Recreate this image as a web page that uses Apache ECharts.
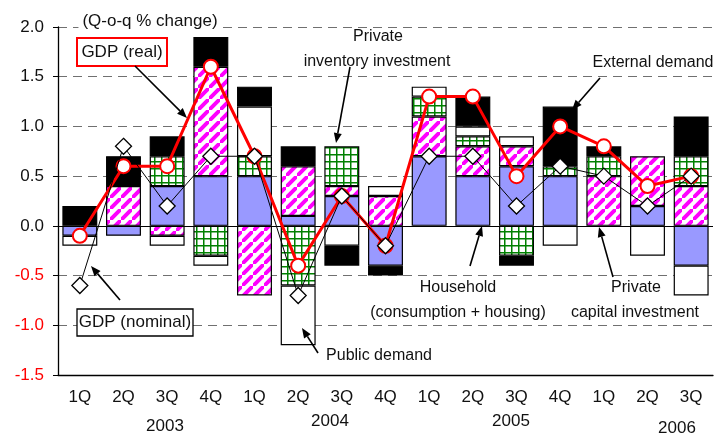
<!DOCTYPE html>
<html>
<head>
<meta charset="utf-8">
<script src="https://cdn.jsdelivr.net/npm/echarts@6/dist/echarts.min.js"></script>
<style>
  html, body { margin: 0; padding: 0; background: #fff; }
  #chart { width: 717px; height: 434px; }
</style>
</head>
<body>
<div id="chart"></div>
<script>
  // 数据
  var categories = ['1Q', '2Q', '3Q', '4Q', '1Q', '2Q', '3Q', '4Q', '1Q', '2Q', '3Q', '4Q', '1Q', '2Q', '3Q']
  var years = ['2003', '2004', '2005', '2006']
  var household = [-0.1, -0.1, 0.4, 0.5, 0.5, 0.1, 0.3, -0.4, 0.7, 0.5, 0.6, 0.5, 0, 0.2, -0.4]
  var privateCapital = [0, 0.4, -0.1, 1.1, -0.7, 0.5, 0.1, 0.3, 0.4, 0.3, 0.2, 0, 0.5, 0.5, 0.4]
  var inventory = [0, 0, 0.3, -0.3, 0.2, -0.6, 0.4, 0, 0.2, 0.1, -0.3, 0.1, 0.2, 0, 0.3]
  var publicDemand = [-0.1, 0, -0.1, -0.1, 0.5, -0.6, -0.2, 0.1, 0.1, 0.1, 0.1, -0.2, 0, -0.3, -0.3]
  var externalDemand = [0.2, 0.3, 0.2, 0.3, 0.2, 0.2, -0.2, -0.1, 0, 0.3, -0.1, 0.6, 0.1, 0, 0.4]
  var gdpReal = [-0.1, 0.6, 0.6, 1.6, 0.7, -0.4, 0.3, -0.2, 1.3, 1.3, 0.5, 1.0, 0.8, 0.4, 0.5]
  var gdpNominal = [-0.6, 0.8, 0.2, 0.7, 0.7, -0.7, 0.3, -0.2, 0.7, 0.7, 0.2, 0.6, 0.5, 0.2, 0.5]

  var FONT = '"Liberation Sans", Arial, sans-serif'

  // 斜线 / 网格 填充
  function stripePattern () {
    var s = 11
    var c = document.createElement('canvas')
    c.width = s; c.height = s
    var ctx = c.getContext('2d')
    ctx.fillStyle = '#fff'
    ctx.fillRect(0, 0, s, s)
    ctx.strokeStyle = '#FF00FF'
    ctx.lineWidth = 4
    ctx.beginPath()
    ctx.moveTo(-s, s * 2); ctx.lineTo(s * 2, -s)
    ctx.moveTo(-s * 2, s); ctx.lineTo(s, -s * 2)
    ctx.moveTo(0, s * 3); ctx.lineTo(s * 3, 0)
    ctx.stroke()
    return { image: c, repeat: 'repeat' }
  }
  function gridPattern () {
    var s = 7
    var c = document.createElement('canvas')
    c.width = s; c.height = s
    var ctx = c.getContext('2d')
    ctx.fillStyle = '#fff'
    ctx.fillRect(0, 0, s, s)
    ctx.fillStyle = '#008000'
    ctx.fillRect(0, 0, s, 1.5)
    ctx.fillRect(0, 0, 1.5, s)
    return { image: c, repeat: 'repeat' }
  }

  function clean (arr) {
    return arr.map(function (v) { return v === 0 ? '-' : v })
  }

  function barSeries (name, data, color) {
    return {
      name: name,
      type: 'bar',
      stack: 'total',
      barCategoryGap: '20%',
      data: clean(data),
      itemStyle: { color: color, borderColor: '#000', borderWidth: 1.2 },
      z: 2
    }
  }

  function arrow (x1, y1, x2, y2) {
    var a = Math.atan2(y2 - y1, x2 - x1)
    var L = 10, W = 4
    var bx = x2 - L * Math.cos(a), by = y2 - L * Math.sin(a)
    return [
      { type: 'line', shape: { x1: x1, y1: y1, x2: bx, y2: by }, style: { stroke: '#000', lineWidth: 1.6 }, z: 100 },
      { type: 'polygon', shape: { points: [[x2, y2], [bx + W * Math.sin(a), by - W * Math.cos(a)], [bx - W * Math.sin(a), by + W * Math.cos(a)]] }, style: { fill: '#000' }, z: 100 }
    ]
  }

  function label (text, x, y, size) {
    return {
      type: 'text', x: x, y: y, z: 100,
      style: { text: text, font: (size || 16) + 'px ' + FONT, fill: '#111', align: 'center', verticalAlign: 'middle' }
    }
  }

  var graphics = [
    {
      type: 'text', x: 150, y: 21, z: 100,
      style: { text: '(Q-o-q % change)', font: '17px ' + FONT, fill: '#111', align: 'center', verticalAlign: 'middle', backgroundColor: '#fff', padding: [2, 4] }
    },
    { type: 'rect', shape: { x: 77, y: 38, width: 90, height: 28 }, style: { fill: '#fff', stroke: '#FF0000', lineWidth: 2 }, z: 100 },
    label('GDP (real)', 122, 52, 17),
    { type: 'rect', shape: { x: 77, y: 309, width: 116, height: 27 }, style: { fill: '#fff', stroke: '#000', lineWidth: 1.3 }, z: 100 },
    label('GDP (nominal)', 135, 322, 17),
    label('Private', 378, 37),
    label('inventory investment', 377, 62),
    label('External demand', 653, 63),
    label('Household', 458, 288),
    label('(consumption + housing)', 458, 313),
    label('Private', 636, 288),
    label('capital investment', 635, 313),
    label('Public demand', 379, 356),
    label(years[0], 165, 426, 17),
    label(years[1], 330, 421, 17),
    label(years[2], 511, 421, 17),
    label(years[3], 677, 428, 17)
  ]
  graphics = graphics
    .concat(arrow(135, 66, 187, 118))
    .concat(arrow(350, 67, 336, 143))
    .concat(arrow(600, 78, 572, 110))
    .concat(arrow(120, 300, 91, 266))
    .concat(arrow(318, 353, 302, 328))
    .concat(arrow(470, 266, 482, 226))
    .concat(arrow(613, 277, 599, 227))

  var chart = echarts.init(document.getElementById('chart'))
  var hh = barSeries('Household', household, '#9999FF')
  hh.markLine = {
    silent: true,
    symbol: 'none',
    label: { show: false },
    lineStyle: { color: '#000', type: 'solid', width: 1 },
    data: [{ yAxis: 0 }]
  }
  chart.setOption({
    animation: false,
    textStyle: { fontFamily: FONT },
    grid: { left: 58, right: 4, top: 27, bottom: 59 },
    xAxis: {
      type: 'category',
      data: categories,
      axisLine: { onZero: false, lineStyle: { color: '#000', width: 1.3 } },
      axisTick: { inside: true, length: 5, lineStyle: { color: '#000' } },
      axisLabel: { color: '#111', fontSize: 17, margin: 14 }
    },
    yAxis: {
      type: 'value',
      min: -1.5,
      max: 2,
      interval: 0.5,
      axisLine: { show: true, lineStyle: { color: '#000', width: 1.3 } },
      axisTick: { show: true, length: 5, lineStyle: { color: '#000' } },
      splitLine: { lineStyle: { color: '#707070', type: [9, 6], width: 1 } },
      axisLabel: {
        fontSize: 17,
        margin: 14,
        color: '#111',
        formatter: function (v) {
          var s = v.toFixed(1)
          return v < 0 ? '{neg|' + s + '}' : s
        },
        rich: { neg: { color: '#FF0000', fontSize: 17 } }
      }
    },
    series: [
      hh,
      barSeries('Private capital investment', privateCapital, stripePattern()),
      barSeries('Private inventory investment', inventory, gridPattern()),
      barSeries('Public demand', publicDemand, '#FFFFFF'),
      barSeries('External demand', externalDemand, '#000000'),
      {
        name: 'GDP (real)',
        type: 'line',
        data: gdpReal,
        symbol: 'circle',
        symbolSize: 14,
        lineStyle: { color: '#FF0000', width: 3 },
        itemStyle: { color: '#FFFFFF', borderColor: '#FF0000', borderWidth: 2 },
        z: 5
      },
      {
        name: 'GDP (nominal)',
        type: 'line',
        data: gdpNominal,
        symbol: 'diamond',
        symbolSize: 16,
        lineStyle: { color: '#000', width: 1 },
        itemStyle: { color: '#FFFFFF', borderColor: '#000', borderWidth: 1.3 },
        z: 6
      }
    ],
    graphic: graphics
  })
</script>
</body>
</html>
